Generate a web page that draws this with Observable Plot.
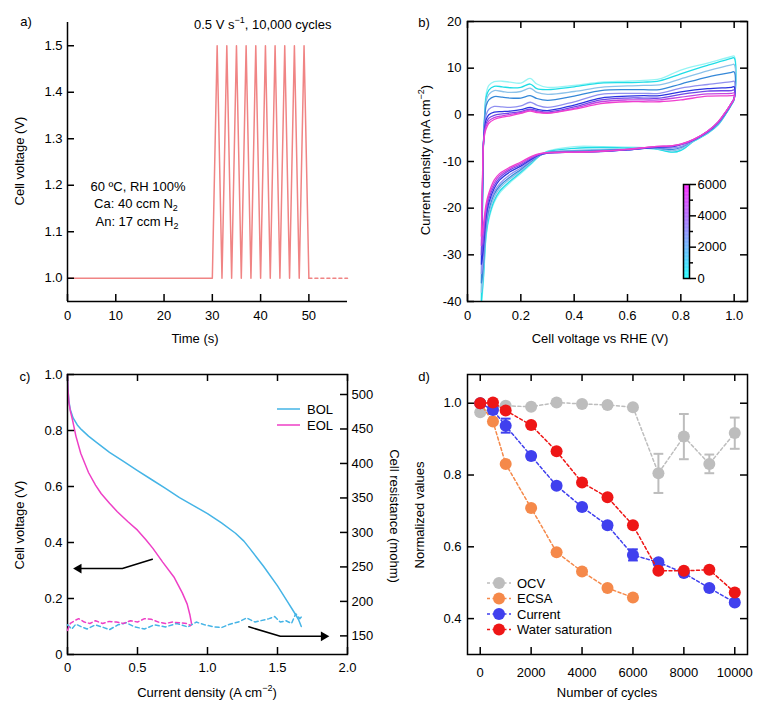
<!DOCTYPE html>
<html><head><meta charset="utf-8">
<script src="https://cdn.jsdelivr.net/npm/d3@7"></script>
<script src="https://cdn.jsdelivr.net/npm/@observablehq/plot@0.6"></script>
<style>
body{margin:0;background:#fff;}
#wrap{position:relative;width:768px;height:701px;font-family:"Liberation Sans",Arial,Helvetica,sans-serif;font-size:13px;color:#000;overflow:hidden;background:#fff}
.t{position:absolute;white-space:nowrap;line-height:1;}
sup{font-size:9px;vertical-align:6px;line-height:0}
sub{font-size:9px;vertical-align:-3px;line-height:0}
</style></head>
<body><div id="wrap"></div>
<script>
// ---------------- Panel a data ----------------
const timeA = [0, 30, 31, 32, 33, 34, 35, 36, 37, 38, 39, 40, 41, 42, 43, 44, 45, 46, 47, 48, 49, 50];
const voltA = [1.0, 1.0, 1.5, 1.0, 1.5, 1.0, 1.5, 1.0, 1.5, 1.0, 1.5, 1.0, 1.5, 1.0, 1.5, 1.0, 1.5, 1.0, 1.5, 1.0, 1.5, 1.0];
const timeHoldA = [50, 58];
const voltHoldA = [1.0, 1.0];
const xTicksA = [0, 10, 20, 30, 40, 50];
const yTicksA = [1.0, 1.1, 1.2, 1.3, 1.4, 1.5];

// ---------------- Panel b data ----------------
const cyclesB = [0, 500, 1000, 1500, 2000, 3000, 4000, 5000, 6000];
const curveColorsB = ["#96f4f4", "#1fdde6", "#8cc2ea", "#3588d8", "#9090f0", "#2c33e0", "#7048e6", "#c246e2", "#f03fcf"];
const vAnodic = [0.052, 0.056, 0.06, 0.065, 0.07, 0.08, 0.1, 0.13, 0.16, 0.2, 0.235, 0.26, 0.3, 0.4, 0.5, 0.6, 0.66, 0.72, 0.8, 0.9, 0.99, 1.0];
const jAnodic = [
  [-41, -22, -6, 1, 4.5, 6.3, 7.1, 7.2, 7.0, 6.8, 7.8, 6.6, 5.9, 6.3, 7.0, 7.2, 7.4, 7.7, 9.6, 11.1, 12.5, 12.6],
  [-40, -21, -6, 0.5, 3.8, 5.3, 6.1, 6.0, 5.8, 5.9, 6.6, 5.6, 5.4, 6.0, 6.8, 6.9, 7.0, 7.3, 8.8, 10.6, 12.1, 12.2],
  [-38, -20, -6, 0, 3.0, 4.4, 5.2, 5.0, 4.8, 5.0, 5.7, 4.8, 4.4, 5.0, 5.9, 6.2, 6.3, 6.4, 7.7, 9.4, 10.7, 10.8],
  [-36, -19, -6, -0.5, 2.0, 3.2, 3.9, 3.8, 3.6, 3.6, 4.1, 3.5, 3.1, 4.0, 5.2, 5.4, 5.4, 5.4, 6.6, 8.1, 9.1, 9.2],
  [-34, -18, -6, -1.5, 0, 1.2, 1.8, 1.7, 1.6, 1.9, 2.7, 2.1, 1.6, 2.8, 4.4, 4.6, 4.6, 4.6, 5.7, 6.5, 7.1, 7.2],
  [-32, -17, -6, -2.5, -1, 0, 0.6, 0.7, 0.8, 1.1, 1.6, 1.2, 0.9, 2.1, 3.6, 4.0, 4.1, 4.1, 4.9, 5.6, 5.9, 6.0],
  [-30, -16, -6, -3, -1.8, -0.7, -0.1, 0.2, 0.4, 0.7, 1.2, 0.9, 0.6, 1.7, 3.2, 3.6, 3.6, 3.6, 4.4, 5.1, 5.2, 5.3],
  [-28, -15, -6, -3.5, -2.4, -1.3, -0.6, -0.2, 0.1, 0.5, 1.0, 0.7, 0.4, 1.4, 2.8, 3.2, 3.2, 3.2, 3.8, 4.5, 4.6, 4.7],
  [-26, -14, -6, -4, -3, -1.8, -1.0, -0.5, -0.2, 0.3, 0.8, 0.5, 0.3, 1.2, 2.4, 2.8, 2.8, 2.8, 3.2, 4.0, 4.1, 4.2]
];
const vCathodic = [1.0, 0.99, 0.97, 0.94, 0.9, 0.85, 0.8, 0.77, 0.7, 0.6, 0.5, 0.4, 0.3, 0.27, 0.24, 0.2, 0.16, 0.12, 0.1, 0.08, 0.07, 0.06, 0.055, 0.052];
const jCathodic = [
  [3.3, 2.2, 0.3, -2.2, -4.0, -5.6, -7.6, -8.0, -7.2, -6.9, -6.8, -6.8, -7.8, -8.8, -10.5, -12.6, -14.5, -16.8, -18.8, -22.5, -26, -35.5, -39, -41],
  [3.3, 2.2, 0.3, -2.1, -4.0, -5.6, -7.6, -8.0, -7.3, -7.1, -7.0, -7.2, -7.9, -8.8, -10.3, -12.3, -14.2, -16.4, -18.4, -22.0, -25.5, -34.5, -38, -40],
  [3.4, 2.3, 0.4, -2.0, -3.9, -5.5, -7.3, -7.7, -7.2, -7.3, -7.4, -7.6, -8.0, -8.7, -10.1, -12.0, -13.7, -15.8, -17.7, -21.2, -24.5, -33, -36.5, -38],
  [3.4, 2.3, 0.4, -1.9, -3.8, -5.4, -7.0, -7.4, -7.1, -7.4, -7.6, -7.8, -8.1, -8.7, -9.9, -11.7, -13.3, -15.3, -17.0, -20.3, -23.5, -31.5, -35, -36],
  [3.5, 2.4, 0.5, -1.8, -3.7, -5.4, -6.8, -7.1, -7.0, -7.5, -7.8, -7.9, -8.2, -8.7, -9.7, -11.4, -12.8, -14.8, -16.5, -19.5, -22.8, -30, -33, -34],
  [3.6, 2.5, 0.7, -1.6, -3.6, -5.3, -6.4, -6.8, -7.0, -7.5, -7.9, -8.0, -8.2, -8.6, -9.5, -11.0, -12.2, -14.0, -15.8, -18.8, -21.8, -28.4, -31, -32],
  [3.6, 2.5, 0.7, -1.6, -3.6, -5.3, -6.4, -6.7, -6.9, -7.5, -7.8, -8.0, -8.2, -8.5, -9.3, -10.7, -11.8, -13.5, -15.2, -18.0, -20.8, -26.5, -29, -30],
  [3.5, 2.5, 0.8, -1.5, -3.5, -5.2, -6.3, -6.6, -6.8, -7.4, -7.8, -8.0, -8.1, -8.4, -9.1, -10.4, -11.5, -13.0, -14.6, -17.4, -19.9, -24.8, -27.5, -28],
  [3.5, 2.5, 0.8, -1.5, -3.5, -5.2, -6.3, -6.6, -6.8, -7.4, -7.8, -8.0, -8.1, -8.3, -8.9, -10.1, -11.2, -12.6, -14.0, -16.8, -19.0, -23.4, -25.5, -26]
];
const xTicksB = [0, 0.2, 0.4, 0.6, 0.8, 1.0];
const yTicksB = [-40, -30, -20, -10, 0, 10, 20];
const colorbarTicks = [0, 2000, 4000, 6000];
const colorbarMinor = [1000, 3000, 5000];

// ---------------- Panel c data ----------------
const iBOL = [0, 0.003, 0.01, 0.02, 0.04, 0.07, 0.1, 0.15, 0.2, 0.3, 0.4, 0.5, 0.6, 0.7, 0.8, 0.9, 1.0, 1.1, 1.2, 1.26, 1.3, 1.4, 1.5, 1.57, 1.62, 1.65, 1.67];
const vBOL = [0.99, 0.95, 0.905, 0.875, 0.845, 0.82, 0.803, 0.78, 0.76, 0.722, 0.69, 0.657, 0.625, 0.593, 0.56, 0.532, 0.503, 0.47, 0.433, 0.405, 0.38, 0.315, 0.245, 0.19, 0.15, 0.125, 0.10];
const iEOL = [0, 0.003, 0.01, 0.02, 0.036, 0.06, 0.095, 0.15, 0.2, 0.24, 0.3, 0.356, 0.43, 0.5, 0.56, 0.61, 0.68, 0.76, 0.82, 0.855, 0.875, 0.886];
const vEOL = [1.0, 0.95, 0.90, 0.87, 0.837, 0.78, 0.718, 0.65, 0.605, 0.575, 0.54, 0.51, 0.475, 0.444, 0.41, 0.379, 0.33, 0.277, 0.22, 0.18, 0.14, 0.11];
const iResBOL = [0, 0.03, 0.06, 0.1, 0.14, 0.2, 0.26, 0.3, 0.36, 0.42, 0.48, 0.55, 0.62, 0.7, 0.78, 0.86, 0.92, 0.98, 1.05, 1.1, 1.16, 1.22, 1.28, 1.34, 1.38, 1.44, 1.48, 1.52, 1.56, 1.6, 1.63, 1.66, 1.68];
const rResBOL = [166, 160, 167, 163, 160, 166, 162, 159, 166, 169, 163, 160, 166, 163, 168, 163, 170, 166, 163, 162, 167, 170, 176, 170, 172, 175, 178, 170, 172, 168, 182, 175, 180];
const iResEOL = [0, 0.02, 0.05, 0.08, 0.12, 0.16, 0.2, 0.25, 0.3, 0.35, 0.4, 0.45, 0.5, 0.55, 0.6, 0.65, 0.7, 0.75, 0.8, 0.85, 0.88];
const rResEOL = [158, 168, 172, 175, 170, 168, 172, 168, 171, 170, 168, 172, 170, 175, 174, 170, 168, 170, 169, 168, 165];
const arrowLeftC = [{I: 0.606, V: 0.34}, {I: 0.392, V: 0.307}, {I: 0.08, V: 0.307}];
const arrowRightC = [{I: 1.295, V: 0.099}, {I: 1.52, V: 0.065}, {I: 1.83, V: 0.065}];
const xTicksC = [0, 0.5, 1.0, 1.5, 2.0];
const yTicksC = [0, 0.2, 0.4, 0.6, 0.8, 1.0];
const rTicksC = [150, 200, 250, 300, 350, 400, 450, 500];

// ---------------- Panel d data ----------------
const cyclesOCV = [0, 500, 1000, 2000, 3000, 4000, 5000, 6000, 7000, 8000, 9000, 10000];
const ocv = [0.975, 0.985, 0.993, 0.99, 1.002, 0.998, 0.995, 0.989, 0.805, 0.907, 0.831, 0.917];
const ocvLo = [0.97, 0.98, 0.988, 0.985, 0.997, 0.993, 0.99, 0.984, 0.750, 0.844, 0.805, 0.873];
const ocvHi = [0.98, 0.99, 0.998, 0.995, 1.007, 1.003, 1.0, 0.994, 0.859, 0.970, 0.857, 0.960];
const cyclesECSA = [0, 500, 1000, 2000, 3000, 4000, 5000, 6000];
const ecsa = [1.0, 0.949, 0.831, 0.708, 0.585, 0.531, 0.485, 0.459];
const cyclesCur = [0, 500, 1000, 2000, 3000, 4000, 5000, 6000, 7000, 8000, 9000, 10000];
const current = [1.0, 0.981, 0.937, 0.853, 0.770, 0.711, 0.660, 0.577, 0.557, 0.527, 0.485, 0.445];
const currentLo = [0.995, 0.972, 0.918, 0.846, 0.763, 0.704, 0.653, 0.562, 0.549, 0.521, 0.479, 0.439];
const currentHi = [1.005, 0.99, 0.957, 0.86, 0.777, 0.718, 0.667, 0.593, 0.565, 0.533, 0.491, 0.451];
const cyclesWater = [0, 500, 1000, 2000, 3000, 4000, 5000, 6000, 7000, 8000, 9000, 10000];
const water = [1.0, 1.002, 0.98, 0.939, 0.866, 0.779, 0.738, 0.660, 0.533, 0.533, 0.536, 0.473];
const seriesD = ["OCV", "ECSA", "Current", "Water saturation"];
const colorsD = ["#bdbdbd", "#f5894a", "#4040ee", "#ee1616"];
const xTicksD = [0, 2000, 4000, 6000, 8000, 10000];
const yTicksD = [0.4, 0.6, 0.8, 1.0];

// ---------------- helpers ----------------
const wrap = document.getElementById("wrap");
const FONT = '"Liberation Sans", Arial, Helvetica, sans-serif';
const STYLE = {fontFamily: FONT, fontSize: "13px", background: "transparent", overflow: "visible", color: "black"};
const TL = 7, SW = 1.5;
function inX(vals, side, H) {
  return Plot.tickX(vals, {x: d => d, stroke: "black", strokeWidth: SW,
    insetTop: side === "bottom" ? H - TL : 0, insetBottom: side === "top" ? H - TL : 0});
}
function inY(vals, side, W) {
  return Plot.tickY(vals, {y: d => d, stroke: "black", strokeWidth: SW,
    insetLeft: side === "right" ? W - TL : 0, insetRight: side === "left" ? W - TL : 0});
}
function place(el, left, top) {
  el.style.position = "absolute"; el.style.left = left + "px"; el.style.top = top + "px";
  wrap.appendChild(el);
}
function addText(html, x, y, opt = {}) {
  const d = document.createElement("div");
  d.className = "t"; d.innerHTML = html;
  d.style.left = x + "px"; d.style.top = y + "px";
  const rot = opt.rot ? ` rotate(${opt.rot}deg)` : "";
  const tx = opt.anchor === "start" ? "0" : "-50%";
  d.style.transform = `translate(${tx},-50%)${rot}`;
  if (opt.rot) d.style.transformOrigin = "0 0";
  if (opt.rot) d.style.transform = `rotate(${opt.rot}deg) translate(-50%,-50%)`;
  wrap.appendChild(d);
}
const fmt1 = d => d === 0 ? "0" : d.toFixed(1);
const fmtInt = d => String(d);

// ---------------- Panel a ----------------
const rowsA = timeA.map((t, i) => ({t, v: voltA[i]}));
const holdA = timeHoldA.map((t, i) => ({t, v: voltHoldA[i]}));
place(Plot.plot({
  width: 384, height: 350, marginLeft: 67, marginRight: 37, marginTop: 22, marginBottom: 49,
  style: STYLE,
  x: {domain: [0, 58]}, y: {domain: [0.95, 1.55]},
  marks: [
    Plot.line(rowsA, {x: "t", y: "v", stroke: "#f08484", strokeWidth: 1.5}),
    Plot.line(holdA, {x: "t", y: "v", stroke: "#f08484", strokeWidth: 1.5, strokeDasharray: "3,3"}),
    Plot.ruleX([0], {stroke: "black", strokeWidth: SW}),
    Plot.ruleY([0.95], {stroke: "black", strokeWidth: SW}),
    inX(xTicksA, "bottom", 279), inY(yTicksA, "left", 280),
    Plot.axisX({ticks: xTicksA, tickSize: 0, tickPadding: 9, label: null, tickFormat: fmtInt}),
    Plot.axisY({ticks: yTicksA, tickSize: 0, tickPadding: 5, label: null, tickFormat: d => d.toFixed(1)})
  ]
}), 0, 0);

// ---------------- Panel b ----------------
const rowsB = [];
cyclesB.forEach((c, k) => {
  vAnodic.forEach((v, i) => rowsB.push({c, v, j: jAnodic[k][i]}));
  vCathodic.forEach((v, i) => rowsB.push({c, v, j: jCathodic[k][i]}));
});
place(Plot.plot({
  width: 384, height: 350, marginLeft: 83, marginRight: 21, marginTop: 21, marginBottom: 49,
  style: STYLE,
  x: {domain: [0, 1.05]}, y: {domain: [-40, 20]},
  color: {type: "ordinal", domain: cyclesB, range: curveColorsB},
  marks: [
    Plot.line(rowsB, {x: "v", y: "j", z: "c", stroke: "c", strokeWidth: 1.3, curve: "catmull-rom", clip: true}),
    Plot.frame({stroke: "black", strokeWidth: SW}),
    inX(xTicksB, "bottom", 280), inX(xTicksB, "top", 280),
    inY(yTicksB, "left", 280), inY(yTicksB, "right", 280),
    Plot.axisX({ticks: xTicksB, tickSize: 0, tickPadding: 9, label: null, tickFormat: fmt1}),
    Plot.axisY({ticks: yTicksB, tickSize: 0, tickPadding: 6, label: null, tickFormat: fmtInt})
  ]
}), 384, 0);

// colour bar
const cbStops = d3.range(0, 6000, 50);
place(Plot.plot({
  width: 60, height: 112, marginLeft: 3, marginRight: 51, marginTop: 8, marginBottom: 10,
  style: STYLE,
  y: {domain: [0, 6000]},
  color: {type: "linear", domain: [0, 6000], range: ["#00ffff", "#ff00ff"]},
  marks: [
    Plot.rect(cbStops, {y1: d => d, y2: d => d + 50, fill: d => d}),
    Plot.frame({stroke: "black", strokeWidth: SW}),
    Plot.axisY({anchor: "right", ticks: colorbarTicks, tickSize: 6, tickPadding: 2, strokeWidth: 1.5, label: null, tickFormat: fmtInt}),
    Plot.axisY({anchor: "right", ticks: colorbarMinor, tickSize: 3, strokeWidth: 1.5, label: null, tickFormat: () => ""})
  ]
}), 680, 176);

// ---------------- Panel c ----------------
const rowsBOL = iBOL.map((I, i) => ({I, V: vBOL[i]}));
const rowsEOL = iEOL.map((I, i) => ({I, V: vEOL[i]}));
place(Plot.plot({
  width: 384, height: 351, marginLeft: 67, marginRight: 37, marginTop: 24, marginBottom: 47,
  style: STYLE,
  x: {domain: [0, 2]}, y: {domain: [0, 1]},
  marks: [
    Plot.line(rowsBOL, {x: "I", y: "V", stroke: "#45b4e6", strokeWidth: 1.5}),
    Plot.line(rowsEOL, {x: "I", y: "V", stroke: "#ee3fc6", strokeWidth: 1.5}),
    Plot.line(arrowLeftC, {x: "I", y: "V", stroke: "black", strokeWidth: 1.5}),
    Plot.line(arrowRightC, {x: "I", y: "V", stroke: "black", strokeWidth: 1.5}),
    Plot.dot(arrowLeftC.slice(-1), {x: "I", y: "V", symbol: "triangle", r: 3.6, fill: "black", rotate: -90}),
    Plot.dot(arrowRightC.slice(-1), {x: "I", y: "V", symbol: "triangle", r: 3.6, fill: "black", rotate: 90}),
    Plot.frame({stroke: "black", strokeWidth: SW}),
    inX(xTicksC, "bottom", 280), inX(xTicksC, "top", 280),
    inY(yTicksC, "left", 280),
    Plot.axisX({ticks: xTicksC, tickSize: 0, tickPadding: 8, label: null, tickFormat: fmt1}),
    Plot.axisY({ticks: yTicksC, tickSize: 0, tickPadding: 5, label: null, tickFormat: fmt1})
  ]
}), 0, 350);
// resistance overlay (right axis)
const rowsRB = iResBOL.map((I, i) => ({I, R: rResBOL[i]}));
const rowsRE = iResEOL.map((I, i) => ({I, R: rResEOL[i]}));
place(Plot.plot({
  width: 384, height: 351, marginLeft: 67, marginRight: 37, marginTop: 24, marginBottom: 47,
  style: STYLE,
  x: {domain: [0, 2], axis: null}, y: {domain: [123, 529]},
  marks: [
    Plot.line(rowsRB, {x: "I", y: "R", stroke: "#45b4e6", strokeWidth: 1.5, strokeDasharray: "4,3"}),
    Plot.line(rowsRE, {x: "I", y: "R", stroke: "#ee3fc6", strokeWidth: 1.5, strokeDasharray: "4,3"}),
    inY(rTicksC, "right", 280),
    Plot.axisY({anchor: "right", ticks: rTicksC, tickSize: 0, tickPadding: 4, label: null, tickFormat: fmtInt})
  ]
}), 0, 350);

// ---------------- Panel d ----------------
const capSymbol = {draw(ctx, size) { const w = Math.sqrt(size) / 2; ctx.moveTo(-w, 0); ctx.lineTo(w, 0); }};
const ocvRows = cyclesOCV.map((c, i) => ({c, y: ocv[i], lo: ocvLo[i], hi: ocvHi[i]}));
const ecsaRows = cyclesECSA.map((c, i) => ({c, y: ecsa[i]}));
const curRows = cyclesCur.map((c, i) => ({c, y: current[i], lo: currentLo[i], hi: currentHi[i]}));
const watRows = cyclesWater.map((c, i) => ({c, y: water[i]}));
function seriesMarks(rows, col, err) {
  const m = [Plot.line(rows, {x: "c", y: "y", stroke: col, strokeWidth: 1.5, strokeDasharray: "3,2.5"})];
  if (err) {
    m.push(Plot.ruleX(rows, {x: "c", y1: "lo", y2: "hi", stroke: col, strokeWidth: 2}));
    m.push(Plot.dot(rows, {x: "c", y: "lo", symbol: capSymbol, r: 5.5, stroke: col, strokeWidth: 2}));
    m.push(Plot.dot(rows, {x: "c", y: "hi", symbol: capSymbol, r: 5.5, stroke: col, strokeWidth: 2}));
  }
  m.push(Plot.dot(rows, {x: "c", y: "y", r: 6, fill: col}));
  return m;
}
place(Plot.plot({
  width: 384, height: 351, marginLeft: 83, marginRight: 21, marginTop: 24, marginBottom: 47,
  style: STYLE,
  x: {domain: [-500, 10500]}, y: {domain: [0.3, 1.08]},
  marks: [
    ...seriesMarks(ocvRows, colorsD[0], true),
    ...seriesMarks(ecsaRows, colorsD[1], false),
    ...seriesMarks(curRows, colorsD[2], true),
    ...seriesMarks(watRows, colorsD[3], false),
    Plot.frame({stroke: "black", strokeWidth: SW}),
    inX(xTicksD, "bottom", 280), inX(xTicksD, "top", 280),
    inY(yTicksD, "left", 280), inY(yTicksD, "right", 280),
    Plot.axisX({ticks: xTicksD, tickSize: 0, tickPadding: 13, label: null, tickFormat: fmtInt}),
    Plot.axisY({ticks: yTicksD, tickSize: 0, tickPadding: 6, label: null, tickFormat: d => d.toFixed(1)})
  ]
}), 384, 350);

// ---------------- legends ----------------
const ns = "http://www.w3.org/2000/svg";
function svgEl(tag, attrs) { const e = document.createElementNS(ns, tag); for (const k in attrs) e.setAttribute(k, attrs[k]); return e; }
const leg = svgEl("svg", {width: 768, height: 701});
leg.style.position = "absolute"; leg.style.left = "0"; leg.style.top = "0"; leg.style.pointerEvents = "none";
leg.style.fontFamily = FONT; leg.style.fontSize = "13px";
// panel c legend
[["BOL", "#45b4e6", 409], ["EOL", "#ee3fc6", 425]].forEach(([name, col, y]) => {
  leg.appendChild(svgEl("line", {x1: 277, x2: 300, y1: y, y2: y, stroke: col, "stroke-width": 1.5}));
  const t = svgEl("text", {x: 307, y: y + 4.5}); t.textContent = name; leg.appendChild(t);
});
// panel d legend
const legYd = [583, 598.5, 614, 629.5];
seriesD.forEach((name, i) => {
  const y = legYd[i];
  leg.appendChild(svgEl("line", {x1: 487, x2: 511, y1: y, y2: y, stroke: colorsD[i], "stroke-width": 1.5, "stroke-dasharray": "3,2.5"}));
  leg.appendChild(svgEl("circle", {cx: 499, cy: y, r: 6, fill: colorsD[i]}));
  const t = svgEl("text", {x: 517, y: y + 4.5}); t.textContent = name; leg.appendChild(t);
});
wrap.appendChild(leg);

// ---------------- texts ----------------
addText("a)", 26, 21);
addText("b)", 424, 22);
addText("c)", 25, 376);
addText("d)", 424, 376);
addText("0.5 V s<sup>−1</sup>, 10,000 cycles", 194, 24, {anchor: "start"});
addText("60 ºC, RH 100%", 138, 186);
addText("Ca: 40 ccm N<sub>2</sub>", 136, 203);
addText("An: 17 ccm H<sub>2</sub>", 137, 221);
addText("Time (s)", 195, 338);
addText("Cell voltage (V)", 19, 161, {rot: -90});
addText("Current density (mA cm<sup>−2</sup>)", 425, 160, {rot: -90});
addText("Cell voltage vs RHE (V)", 600, 338);
addText("Cell voltage (V)", 19, 525, {rot: -90});
addText("Current density (A cm<sup>−2</sup>)", 207, 692);
addText("Cell resistance (mohm)", 394, 516, {rot: 90});
addText("Normalized values", 419, 515, {rot: -90});
addText("Number of cycles", 607, 692);
</script></body></html>
